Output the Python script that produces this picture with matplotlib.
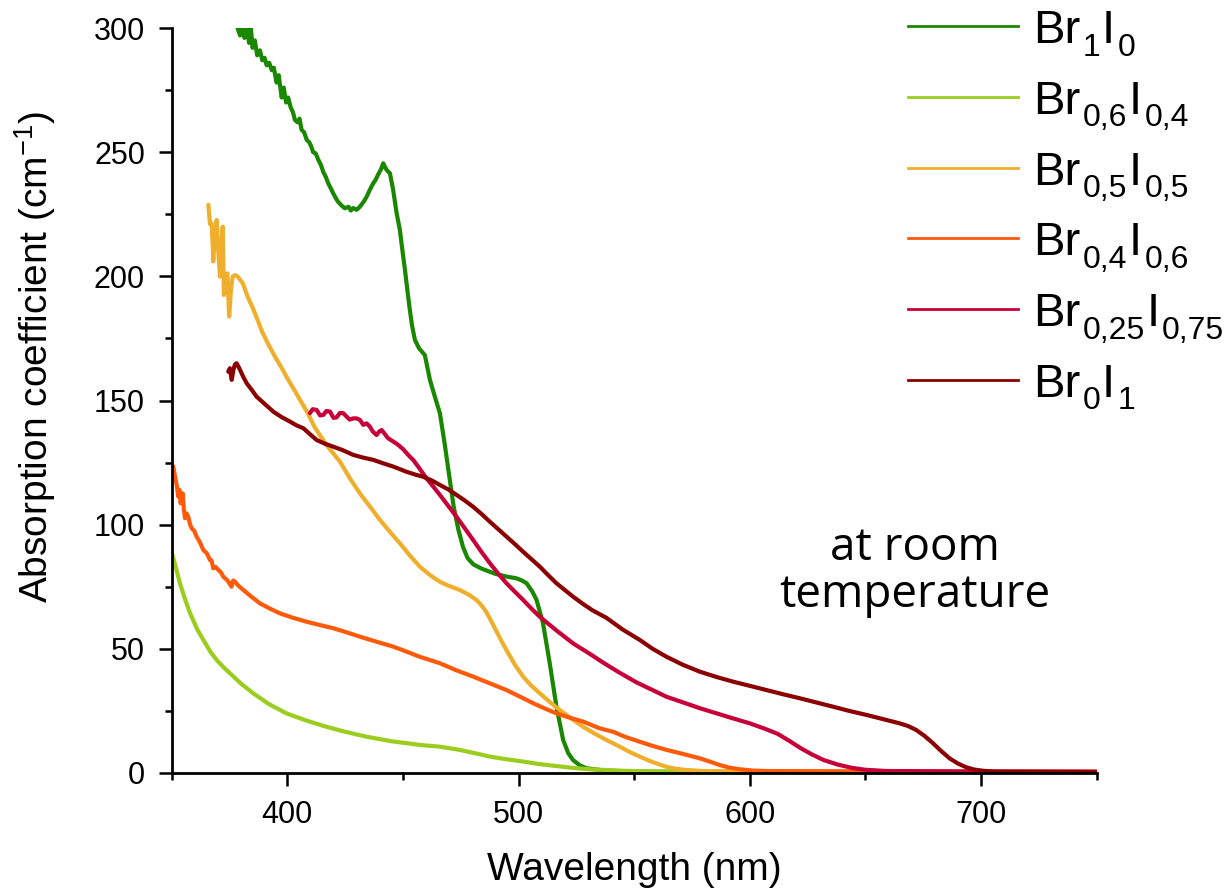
import matplotlib
matplotlib.use('Agg')
import matplotlib.pyplot as plt
from matplotlib.ticker import MultipleLocator
from matplotlib.lines import Line2D

W, H = 1228, 891
plt.rcParams['font.family'] = ['Liberation Sans', 'DejaVu Sans']
plt.rcParams['mathtext.fontset'] = 'custom'
plt.rcParams['mathtext.rm'] = 'Liberation Sans'
plt.rcParams['mathtext.default'] = 'regular'

# ---------------- data (wavelength nm, absorption coefficient cm^-1) -------------
wl_br1 = [378.5, 379.6, 380.5, 381.5, 382.5, 383.5, 384.3, 385, 386, 387, 388.2, 389.2, 390.2,
          391.1, 392.2, 393.3, 394.2, 395.4, 396.3, 397.6, 398.5, 399.5, 400.4, 401.5, 402.5,
          403.3, 404.5, 405.3, 406.2, 407.3, 408.4, 409.5, 410.3, 411.2, 412.3, 413.4, 414.5,
          415.6, 416.7, 417.7, 418.8, 419.9, 421, 422, 423.5, 424.9, 426.5, 427.5, 428.5, 430,
          431.4, 433, 434.3, 435.8, 437.2, 438.3, 439.3, 440.5, 441.5, 442.3, 443, 444.4, 445.8,
          447.3, 448.7, 450, 450.9, 452, 453, 454, 455.2, 457, 459.5, 461.7, 464, 466, 468,
          470.3, 472, 474, 476, 478, 480.5, 484, 490, 494.8, 499.1, 501.5, 503.5, 506,
          507.8, 510.6, 513.5, 516.4, 519.3, 521.5, 523.6, 526.5, 529.4, 538, 560, 600, 700, 750]
ab_br1 = [300, 297, 300, 296, 300, 294, 300, 292, 295, 289, 291, 287, 288,
          285, 286, 283, 284, 278, 281, 272, 276, 270, 272, 268, 266,
          263, 262, 263.5, 259, 258, 255, 254, 252.5, 250, 249.5, 247, 245,
          242, 240, 237.5, 235.5, 233.4, 231.5, 230, 228.5, 227.4, 228, 226.5, 227.5, 226.8,
          228, 230, 232, 235, 237.5, 239, 241, 243, 245.5, 244, 242.8, 241.5, 234.8,
          225.4, 218.7, 209, 202.6, 194, 186.5, 180, 174.4, 171, 168.3, 158.3, 151, 144.9, 133,
          118, 107, 98, 91, 86.5, 84, 82.3, 80.2, 79.1, 78.4, 77.5, 76.4, 73,
          69.7, 60.3, 44.2, 26.7, 13.3, 8, 5.2, 3.1, 1.9, 0.9, 0.5, 0.4, 0.3, 0.3]

wl_br06 = [350.3, 351.5, 353.6, 356, 358, 361, 363.7, 367, 369.5, 372.5, 375.2, 380, 385.3,
           392, 399.7, 408, 417, 425, 434.3, 445, 457.3, 466, 474.6, 481, 487.6, 495, 502,
           509, 516.4, 523, 530.8, 545, 560, 600, 700, 750]
ab_br06 = [88, 84, 76.4, 69.5, 64.3, 58, 53.6, 48.5, 45.5, 42.5, 40.2, 36, 32.1,
           27.8, 24, 21.2, 18.6, 16.6, 14.6, 12.8, 11.3, 10.6, 9.3, 8, 6.6, 5.5, 4.6,
           3.6, 2.8, 2.1, 1.5, 0.9, 0.6, 0.5, 0.4, 0.4]

wl_br05 = [365.9, 366.6, 367.3, 367.8, 368, 368.6, 369.5, 370.2, 370.9, 371.5, 372.1, 372.6,
           373.3, 374.1, 374.9, 375.7, 376.4, 377.5, 378.6, 379.7, 380.8, 382, 382.9, 385,
           387.2, 389, 391.6, 394.5, 397.3, 400, 403.1, 406, 408.9, 411.7, 417, 422.8, 427,
           431.4, 436, 440.1, 444.5, 448.7, 453, 457.3, 462, 466, 470, 474.6, 478.5, 481.8,
           484, 486.1, 488, 490.5, 492.7, 494.8, 498.5, 502, 505.5, 509.2, 513.5, 517.8, 522.8,
           527.9, 533, 538, 543.8, 548, 552.4, 558, 563.9, 568, 572.6, 580, 600, 700, 750]
ab_br05 = [228.8, 221, 221.3, 212, 206, 215, 222.7, 210, 199.9, 212, 220, 192.5,
           196, 201.2, 183.8, 195, 199.9, 200.5, 199.9, 198.5, 197.2, 194, 191.8, 187.5,
           182.4, 178, 173, 168, 163.6, 159, 154.2, 149.5, 144.9, 139.5, 132, 125.4, 118.8,
           112.6, 107, 101.9, 97, 92.5, 87.6, 83.1, 79.5, 77, 75.3, 73.7, 71.8, 69.7,
           67.5, 64.8, 61.5, 57, 53, 49.5, 43.5, 38.8, 35.2, 32.1, 28.6, 25.4, 22,
           18.6, 15.8, 13.3, 10.6, 8.5, 6.6, 4.4, 2.5, 1.7, 1.2, 0.8, 0.6, 0.5, 0.5]

wl_br04 = [350.3, 350.7, 351.5, 352.2, 352.9, 353.4, 353.9, 354.4, 354.8, 355.3, 355.8, 356.5,
           357.2, 358, 358.7, 359.8, 360.8, 362.2, 363.7, 365.2, 366.6, 367.3, 368, 369,
           370.2, 371.3, 372.3, 374.2, 375.9, 376.6, 377.4, 379, 381, 384.5, 388.2, 392.5,
           396.8, 402.5, 408.4, 414, 419.9, 425.5, 431.4, 438.5, 445.8, 451.5, 457.3, 466,
           473, 480.4, 487.6, 494.8, 500.5, 506.3, 511.3, 516.4, 522, 527.9, 535.1, 540.9,
           546, 552.4, 558, 564, 571, 578.4, 583, 587, 591, 595.7, 601, 607.2, 650, 750]
ab_br04 = [124, 123.4, 119.3, 116, 111.3, 114, 108.6, 111, 112.6, 106, 102.6, 104.5,
           103.2, 100, 98.5, 97.5, 95.2, 93, 89.8, 88.5, 85.8, 85.5, 82.4, 83,
           81.8, 80.8, 79.1, 77.5, 75, 77.5, 77, 75.3, 73.7, 71, 68.3, 66.2,
           64.3, 62.5, 60.9, 59.6, 58.3, 56.7, 54.9, 52.9, 50.9, 48.9, 46.8, 44.2,
           41.4, 38.8, 36.1, 33.4, 30.8, 28.1, 26, 24, 22.3, 20.7, 18, 16.6,
           14.6, 12.6, 10.9, 9.3, 7.7, 5.9, 4.5, 3.2, 2.2, 1.5, 1.0, 0.8, 0.6, 0.5]

wl_br025 = [409.8, 411, 412.7, 414.2, 415.6, 417, 418.5, 420, 421.3, 422.8, 424.2, 425.7,
            427, 428.5, 430, 431.4, 432.9, 434.3, 435.7, 437, 438.6, 439.8, 440.8, 442.2,
            443.6, 445.8, 448, 450, 452.3, 454.5, 456.6, 458.4, 460.2, 463, 466, 469.5,
            473.2, 476.8, 480.4, 484, 487.6, 491.2, 494.8, 498.4, 502, 505.6, 509.2, 516.4,
            523.6, 530.8, 536.5, 543.5, 551, 564, 578.4, 592.7, 600, 606, 612, 617, 622, 627,
            632, 638, 644, 650, 659, 700, 750]
ab_br025 = [144.9, 146.5, 146.2, 144, 144.2, 145.8, 145.5, 143, 143.2, 145, 144.9, 143.5,
            142.3, 142.8, 142.8, 142.2, 140.2, 140.8, 139.5, 137.5, 136.1, 137.5, 138.1, 136.5,
            134.8, 133.5, 132.1, 130.5, 128.1, 126, 123.4, 121, 118.7, 115.5, 112, 107.7,
            103.2, 98.5, 93.8, 89, 84.5, 80.3, 76.4, 73, 69.7, 66.2, 62.9, 57.4,
            52.2, 48, 44.5, 40.5, 36.5, 30.7, 26.1, 22, 20, 18, 15.8, 13, 10, 7.4,
            5.2, 3.4, 2.1, 1.3, 0.8, 0.6, 0.5]

wl_br0 = [374.5, 375.2, 376, 376.7, 377.4, 378.1, 379, 379.6, 381, 382.5, 384.7, 386.8,
          390.4, 394, 397.6, 401.2, 404, 407, 410, 412.7, 416.3, 419.9, 424, 428.5, 432.8,
          437.2, 441.5, 445.8, 451.6, 455.9, 458.8, 462.5, 466, 469.6, 473.2, 476.8, 480.4,
          484, 487.6, 491.2, 494.8, 498.4, 502, 505.6, 509.2, 512.8, 516.4, 520, 523.6, 528,
          532, 538, 545, 552.4, 558, 564, 571, 578.4, 585.5, 592.7, 600, 607.2, 614.4, 621.6,
          628.8, 636, 643, 650.4, 657.6, 664.8, 668.5, 672, 675.6, 679.2, 682.8, 686.4, 690,
          693.6, 697, 700.8, 706.6, 750]
ab_br0 = [161.6, 163, 158.3, 162.3, 164.5, 165, 163.5, 162.3, 159.5, 156.9, 154.2, 151.5,
          148.5, 145.5, 143.3, 141.5, 140, 138.8, 136.3, 134.1, 132.6, 131.4, 130, 128.1, 127,
          126.1, 124.7, 123.4, 121.3, 120, 119.3, 117.8, 116, 114.2, 112, 109.7, 107.2,
          104.3, 101.2, 98.2, 95.2, 92.2, 89.1, 86.1, 83.1, 79.7, 76.4, 73.7, 71, 68,
          65.5, 62.5, 57.8, 53.6, 50, 46.8, 43.6, 40.8, 38.7, 36.8, 35.1, 33.4, 31.7, 30.1,
          28.4, 26.7, 25, 23.4, 21.7, 20, 18.9, 17.3, 14.9, 12, 8.8, 5.9, 3.8,
          2.3, 1.4, 0.9, 0.5, 0.4]

series_wl = [wl_br1, wl_br06, wl_br05, wl_br04, wl_br025, wl_br0]
series_ab = [ab_br1, ab_br06, ab_br05, ab_br04, ab_br025, ab_br0]
series_names = ['Br1I0', 'Br0,6I0,4', 'Br0,5I0,5', 'Br0,4I0,6', 'Br0,25I0,75', 'Br0I1']
legend_parts = [('Br', '1', 'I', '0'), ('Br', '0,6', 'I', '0,4'), ('Br', '0,5', 'I', '0,5'),
                ('Br', '0,4', 'I', '0,6'), ('Br', '0,25', 'I', '0,75'), ('Br', '0', 'I', '1')]
colors = ['#1a8700', '#9acd1e', '#efaf2c', '#ff5a0a', '#c70039', '#8b0000']

x_label = 'Wavelength (nm)'
y_label = 'Absorption coefficient (cm$^{-1}$)'
note_lines = ['at room', 'temperature']

# ---------------- figure ----------------
fig = plt.figure(figsize=(W / 100, H / 100), dpi=100)
ax_l, ax_r, ax_t, ax_b = 171.6, 1096.7, 28, 773
ax = fig.add_axes([ax_l / W, 1 - ax_b / H, (ax_r - ax_l) / W, (ax_b - ax_t) / H])

for wl, ab, c, n in zip(series_wl, series_ab, colors, series_names):
    ax.plot(wl, ab, color=c, lw=3.0, solid_joinstyle='round', solid_capstyle='round', label=n)

ax.set_xlim(350, 750)
ax.set_ylim(0, 300)
ax.xaxis.set_major_locator(MultipleLocator(100))
ax.xaxis.set_minor_locator(MultipleLocator(50))
ax.yaxis.set_major_locator(MultipleLocator(50))
ax.yaxis.set_minor_locator(MultipleLocator(25))
for s in ['top', 'right']:
    ax.spines[s].set_visible(False)
for s in ['left', 'bottom']:
    ax.spines[s].set_linewidth(2.0)
ax.tick_params(which='major', direction='out', length=9.6, width=1.8, labelsize=22, pad=9.5)
ax.tick_params(which='minor', direction='out', length=5, width=1.8)

ax.set_xlabel(x_label, fontsize=28)
ax.set_ylabel(y_label, fontsize=28)
ax.xaxis.set_label_coords(0.5, (ax_b - 852) / (ax_b - ax_t))
ax.yaxis.set_label_coords((58 - ax_l) / (ax_r - ax_l), (ax_b - 356.5) / (ax_b - ax_t))

# note text
for k, line in enumerate(note_lines):
    yb = [560, 607][k]
    fig.text(914.5 / W, 1 - yb / H, line, fontsize=33, family=['Open Sans', 'DejaVu Sans'],
             ha='center', va='baseline')

# legend drawn by hand (large subscripts)
renderer = fig.canvas.get_renderer()
for i, (parts, c) in enumerate(zip(legend_parts, colors)):
    yl = 26 + 70.8 * i
    fig.add_artist(Line2D([908 / W, 1018 / W], [1 - yl / H, 1 - yl / H], color=c, lw=2.0,
                          transform=fig.transFigure))
    x = 1033.0
    base = yl + 17.0
    for j, s in enumerate(parts):
        sub = (j % 2 == 1)
        yy = base + (12.5 if sub else 0)
        t = fig.text(x / W, 1 - yy / H, s, fontsize=23 if sub else 34, ha='left', va='baseline')
        x += t.get_window_extent(renderer).width + (1.5 if sub else 2.5)

fig.savefig('out.png', dpi=100)
